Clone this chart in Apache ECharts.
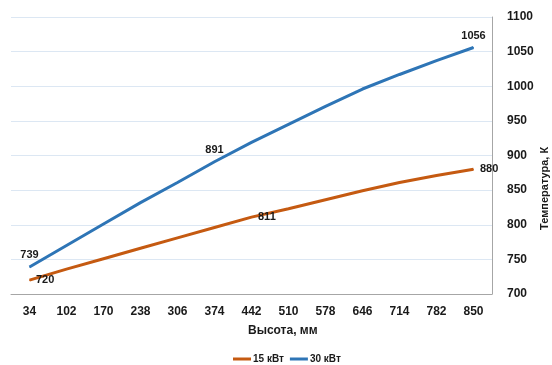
<!DOCTYPE html>
<html>
<head>
<meta charset="utf-8">
<script src="https://cdn.jsdelivr.net/npm/echarts@6/dist/echarts.min.js"></script>
<style>
  html, body { margin: 0; padding: 0; background: #ffffff; }
  #chart { width: 552px; height: 365px; }
</style>
</head>
<body>
<div id="chart"></div>
<script>
// Heights along the column, mm
const heights = ['34', '102', '170', '238', '306', '374', '442', '510', '578', '646', '714', '782', '850'];

// Temperature profiles, K
const temp15 = [720, 736, 751, 766, 781, 796, 811, 823, 836, 849, 861, 871, 880];
const temp30 = [739, 770, 801, 832, 861, 891, 919, 945, 971, 996, 1017, 1037, 1056];

// Points whose values are written on the chart
const labeled15 = [0, 6, 12];
const labeled30 = [0, 5, 12];

const seriesNames = ['15 кВт', '30 кВт'];
const xTitle = 'Высота, мм';
const yTitle = 'Температура, К';

const FONT = '"Liberation Sans", Arial, sans-serif';
const ORANGE = '#C55A11';
const BLUE = '#2E75B6';

function withLabels(values, shown, position) {
  return values.map((v, i) => shown.includes(i)
    ? { value: v, label: { show: true, position: position } }
    : v);
}

const labelStyle = {
  fontFamily: FONT,
  fontSize: 11,
  fontWeight: 'bold',
  color: '#1a1a1a',
  distance: 6
};

const chart = echarts.init(document.getElementById('chart'), null, { renderer: 'canvas' });

chart.setOption({
  animation: false,
  backgroundColor: '#ffffff',
  grid: { left: 11, right: 60, top: 17, bottom: 71, containLabel: false },
  xAxis: {
    type: 'category',
    data: heights,
    boundaryGap: true,
    axisLine: { show: true, lineStyle: { color: '#A6A6A6', width: 1 } },
    axisTick: { show: false },
    axisLabel: {
      fontFamily: FONT, fontSize: 12, fontWeight: 'bold', color: '#1a1a1a',
      margin: 12, interval: 0
    },
    splitLine: { show: false }
  },
  yAxis: {
    type: 'value',
    position: 'right',
    min: 700,
    max: 1100,
    interval: 50,
    axisLine: { show: true, lineStyle: { color: '#A6A6A6', width: 1 } },
    axisTick: { show: false },
    axisLabel: {
      fontFamily: FONT, fontSize: 12, fontWeight: 'bold', color: '#1a1a1a',
      margin: 15,
      formatter: (v) => String(v)
    },
    splitLine: { show: true, lineStyle: { color: '#DCE7F3', width: 1 } }
  },
  legend: {
    data: seriesNames,
    left: 228,
    top: 349,
    icon: 'rect',
    itemWidth: 18,
    itemHeight: 3,
    itemGap: 6,
    textStyle: { fontFamily: FONT, fontSize: 10, fontWeight: 'bold', color: '#1a1a1a', padding: [0, 0, 0, -3] }
  },
  graphic: [
    {
      type: 'text',
      left: 248, top: 325,
      style: { text: xTitle, font: 'bold 12px ' + FONT, fill: '#1a1a1a' }
    },
    {
      type: 'text',
      x: 539, y: 230,
      rotation: Math.PI / 2,
      style: { text: yTitle, font: 'bold 11px ' + FONT, fill: '#1a1a1a' }
    }
  ],
  series: [
    {
      name: seriesNames[0],
      type: 'line',
      data: withLabels(temp15, labeled15, 'right'),
      symbol: 'circle',
      symbolSize: 1,
      lineStyle: { color: ORANGE, width: 3 },
      itemStyle: { color: ORANGE },
      label: Object.assign({ show: false }, labelStyle),
      emphasis: { disabled: true }
    },
    {
      name: seriesNames[1],
      type: 'line',
      data: withLabels(temp30, labeled30, 'top'),
      symbol: 'circle',
      symbolSize: 1,
      lineStyle: { color: BLUE, width: 3 },
      itemStyle: { color: BLUE },
      label: Object.assign({ show: false }, labelStyle),
      emphasis: { disabled: true }
    }
  ]
});
</script>
</body>
</html>
